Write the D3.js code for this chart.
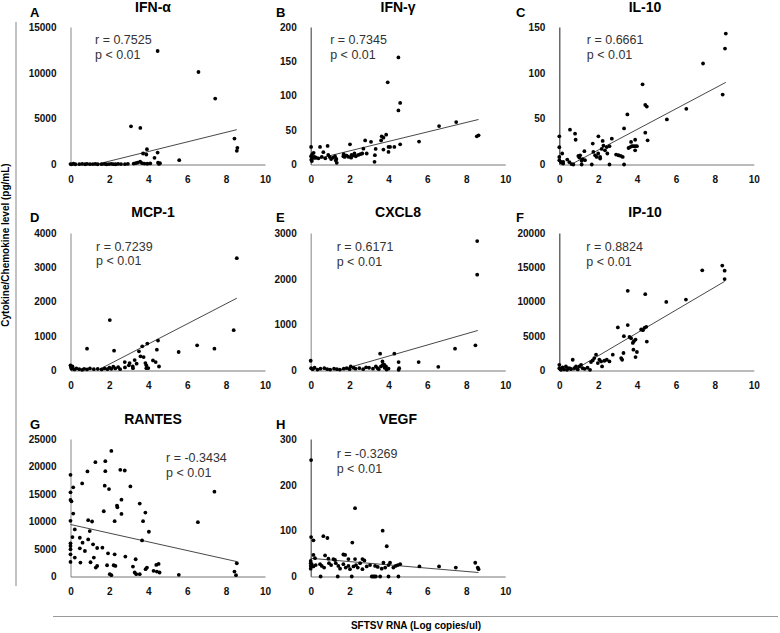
<!DOCTYPE html>
<html><head><meta charset="utf-8">
<script src="https://cdn.jsdelivr.net/npm/d3@7"></script>
<style>body{margin:0;background:#fff}svg{display:block}</style>
</head><body>
<script>
// ---------- DATA ----------
const panelNames = ["IFN-α","IFN-γ","IL-10","MCP-1","CXCL8","IP-10","RANTES","VEGF"];
const panelLetters = ["A","B","C","D","E","F","G","H"];
const yMaxes = [15000,200,150,4000,3000,20000,25000,300];
const yTickSteps = [5000,50,50,1000,1000,5000,5000,100];
const xTicks = [0,2,4,6,8,10];
const rValues = ["r = 0.7525","r = 0.7345","r = 0.6661","r = 0.7239","r = 0.6171","r = 0.8824","r = -0.3434","r = -0.3269"];
const pValues = ["p < 0.01","p < 0.01","p < 0.01","p < 0.01","p < 0.01","p < 0.01","p < 0.01","p < 0.01"];

const ifnAlpha = [[4.48,12380],[6.58,10090],[7.44,7190],[3.11,4170],[3.59,3990],[8.43,2830],[8.58,1815],[8.55,1490],[3.93,1670],[3.73,1200],[3.9,1090],[4.48,1300],[4.32,730],[5.59,470],
 [0,50],[0.05,20],[0.15,80],[0.25,30],[0.45,40],[0.6,60],[0.75,30],[0.85,70],[1.0,40],[1.15,50],[1.28,60],[1.4,30],[1.6,40],[1.75,60],[1.85,30],[1.98,50],[2.1,70],[2.2,40],[2.32,30],[2.45,60],[2.6,50],[2.8,40],[2.95,70],[3.25,100],[3.35,150],[3.45,200],[3.58,300],[3.68,150],[3.8,100],[3.95,80],[4.1,120],[4.5,200],[4.55,60],[4.6,150]];
const ifnGamma = [[4.51,155.7],[3.96,119.5],[4.6,89.6],[4.51,78.6],[7.48,61.7],[6.6,55.9],[8.54,41],[8.63,42.4],[5.57,33.3],[4.6,29.4],[3.88,43.4],[3.65,41],[3.74,39],[3.62,35],[3.1,33],[2.8,35],[2.02,29.4],[3.34,22.6],[3.28,3.9],[3.3,13.5],[3.74,21.7],[4.0,25.5],[4.08,25.5],[4.3,25.5],[4.0,18.3],[0.02,25.5],[0.48,25.5],[0.87,27],[0.02,12],[0.03,7],[0.06,5],[0.08,15],[0.12,10],[0.2,11],[0.28,10],[0.65,18],[0.57,11],[0.9,14],[0.98,11],[1.15,10],[1.25,12],[1.32,8],[1.29,6],[1.34,2.4],[1.68,12],[1.75,11],[1.85,13],[1.95,11],[2.08,10],[2.18,13],[2.32,12],[2.45,14],[2.55,15],[2.65,16],[2.71,23],[2.88,16],[0.75,9],[1.05,8],[1.7,15],[2.1,14],[2.25,16],[0.4,9],[0.15,17]];
const il10 = [[8.56,142.8],[8.52,126.5],[7.39,110.2],[8.4,76.3],[4.28,87.5],[4.42,65],[4.5,63.2],[6.53,60.7],[5.53,49.2],[3.5,54.6],[3.33,39.4],[4.42,34.7],[4.54,26.4],[3.56,18],[3.64,19],[3.73,20],[3.81,20],[3.9,20],[3.99,20],[3.69,24.6],[3.9,27],[3.9,15.5],[2.92,10.8],[3.04,10.1],[3.16,9.4],[3.26,8.3],[2.7,28.2],[2.58,20],[2.44,19],[2.47,12],[2.35,15.5],[2.23,25.7],[2.27,20.6],[2.18,17],[2.01,30.7],[1.72,22.8],[1.75,13.7],[1.84,10],[1.92,8.3],[2.0,12],[2.1,8.3],[2.1,6.5],[1.29,14.5],[1.07,10],[0.98,9.4],[1.03,7.6],[1.2,5.8],[1.15,4],[1.32,4.7],[0.55,38],[0.81,33.6],[0.84,27],[0,30.7],[0,18.8],[0,8.3],[0,4.7],[0.07,2.9],[0.15,12],[0.12,2.2],[0.2,2.9],[0.41,5.4],[0.52,2.5],[0.64,0.4],[0.72,0],[1.15,0],[1.67,0],[2.58,0],[3.33,0],[0.2,1]];
const mcp1 = [[8.55,3267],[8.39,1174],[2.02,1467],[0.85,636],[2.24,577],[4.5,870],[3.95,782],[3.69,704],[4.44,606],[3.52,557],[5.56,538],[6.51,733],[7.4,636],[3.6,411],[3.76,391],[3.3,303],[3.04,215],[2.79,245],[4.24,293],[4.38,245],[4.55,117],[3.85,215],[3.9,68],[3.21,68],
 [0,150],[0.02,100],[0.05,50],[0.1,120],[0.2,30],[0.3,60],[0.45,40],[0.6,20],[0.7,50],[0.85,30],[1.0,60],[1.2,40],[1.4,50],[1.6,30],[1.75,60],[1.9,40],[2.0,80],[2.1,50],[2.2,110],[2.3,60],[2.45,100],[2.55,40],[2.8,90],[3.0,150],[3.2,120],[3.4,200],[3.9,150],[4.0,70]];
const cxcl8 = [[8.56,2824],[8.56,2090],[8.47,550],[7.42,477],[6.56,80],[5.55,183],[3.57,367],[4.3,367],[4.52,183],[3.69,198],[3.78,125],[3.87,88],[3.61,88],[3.44,51],[2.06,88],[4.52,15],[4.55,50],
 [0,213],[0.02,50],[0.1,30],[0.2,60],[0.35,20],[0.5,40],[0.7,50],[0.85,30],[1.0,20],[1.2,40],[1.35,30],[1.5,20],[1.7,40],[1.85,50],[2.0,30],[2.2,60],[2.3,40],[2.5,50],[2.7,30],[2.85,70],[3.0,60],[3.2,40],[3.35,90],[3.5,30],[3.7,120],[3.8,60],[3.9,20],[4.0,40]];
const ip10 = [[8.38,15257],[8.5,14523],[7.35,14572],[8.5,13301],[3.52,11589],[4.42,11100],[5.5,9976],[6.51,10318],[3.52,6602],[3.01,6259],[4.38,6210],[4.47,6357],[4.21,5966],[4.3,5868],[4.5,4205],[3.32,4988],[3.61,4890],[3.69,4694],[3.83,4254],[3.92,4499],[3.78,4010],[3.81,3032],[3.99,2690],[3.92,1956],[3.3,2543],[3.18,1809],[3.23,1565],[2.75,2298],[2.58,1320],[2.44,1565],[2.32,1418],[2.15,1320],[2.06,1565],[1.89,2298],[1.8,1809],[1.72,1467],[1.63,1223],[1.98,1076],[2.2,587],[1.58,98],[1.2,342],[1.12,831],[1.03,587],[0.86,587],[0.69,1565],[0.77,342],[0.46,342],[0.34,587],[0.17,440],[0,831],[0,342],[0.09,98],[0.6,196],[0.05,200],[0.25,150],[0.4,100],[0.55,300],[0.95,150],[1.3,250],[1.45,400]];
const rantes = [[2.1,22831],[1.28,20783],[1.79,20964],[0.87,19096],[1.79,19156],[2.56,19397],[2.79,19277],[0,18494],[0.6,16928],[1.76,16506],[1.98,15904],[3.08,16386],[7.4,15422],[0,15301],[0.14,16205],[0,13916],[0.05,13675],[2.39,12892],[2.41,12590],[2.62,13976],[3.56,13253],[3.85,11627],[2.62,11386],[0.14,11446],[1.71,11867],[0,10120],[0.91,10241],[1.11,10000],[2.27,10060],[6.55,9880],[3.73,10060],[4.03,8132],[0.22,8554],[0.99,8253],[0.1,7169],[0.48,7048],[0.62,6145],[0.91,6747],[3.68,6566],[0,6024],[0,5542],[0,4940],[0,4036],[0,2651],[0.48,5120],[0.74,4639],[1.16,5843],[1.37,5181],[1.64,5241],[0.22,3434],[0.51,2530],[1.2,3434],[1.03,2590],[1.93,4217],[2.27,4036],[2.82,3614],[3.35,3133],[1.37,1928],[1.3,1627],[1.88,2048],[2.22,2048],[2.31,1928],[2.02,422],[2.1,241],[3.21,1807],[3.3,723],[3.38,422],[3.56,422],[3.86,1325],[3.93,1627],[4.41,2108],[4.53,2289],[4.27,1024],[4.44,904],[4.58,723],[5.57,301],[8.43,904],[8.51,241],[8.55,2410]];
const vegf = [[0.02,254],[2.28,149],[3.7,100],[3.91,66],[0.02,86],[0.14,79],[0.65,88],[0.86,84],[2.14,74],[0.74,46],[0.91,39],[0.14,47],[0.22,40],[1.68,48],[1.77,47],[1.94,38],[2.28,38],[2.66,38],[2.76,35],[1.17,38],[1.25,36],[4.08,30],[3.74,30],[4.6,27],[4.48,25],[5.59,22],[6.6,22],[7.46,19.5],[8.46,30],[8.59,19.5],[8.63,16],
 [0,34],[0,29],[0,23],[0,17],[0.05,27],[0.14,22],[0.26,25],[0.48,27],[0.57,23],[0.69,19.5],[0.94,29],[1.05,25],[1.29,29],[1.42,23],[1.51,17],[1.68,27],[1.8,19.5],[1.94,23],[2.02,16],[2.2,22],[2.33,25],[2.42,19.5],[2.54,29],[2.66,16],[2.88,22],[3.05,25],[3.31,23],[3.45,21],[3.65,17],[3.83,19.5],[4.0,25],[4.25,19.5],[4.37,23],
 [0.51,0],[1.39,0],[2.11,0],[3.14,0],[3.21,0],[3.28,0],[3.35,0],[3.57,0],[4.0,0],[4.51,0]];
const panelPoints = [ifnAlpha, ifnGamma, il10, mcp1, cxcl8, ip10, rantes, vegf];
// trend line end points [x0, y0, x1, y1]
const trendLines = [[1.3,0,8.55,3800],[0,6,8.63,65.5],[0.6,0,8.56,89.6],[1.37,0,8.55,2103],[1.43,0,8.59,873],[0.72,0,8.5,12959],[0,9458,8.55,2711],[0,39.7,8.63,8.7]];
const xAxisTitle = "SFTSV RNA (Log copies/ul)";
const yAxisTitle = "Cytokine/Chemokine level (pg/mL)";

// ---------- LAYOUT ----------
const W = 780, H = 633;
const colX = [70.5, 310.7, 559.3];
const plotW = 194.5;
const rowTop = [27, 233, 439];
const plotH = 137.5;
const titleX = [153, 398, 645];
const titleBase = [12, 217, 424];
const letterX = [30, 276, 516];
const statOffsets = [[24.5,13],[19.5,13],[27.5,13],[25.5,13.5],[26,14],[27,14],[95.5,19],[26,15]];
const yAxisColors = ["#9a9a9a","#555","#444","#9a9a9a","#9a9a9a","#444","#9a9a9a","#555"];

const svg = d3.select("body").append("svg").attr("width", W).attr("height", H);
const font = "Arial, 'Liberation Sans', sans-serif";

panelNames.forEach((name, i) => {
  const col = i % 3, row = Math.floor(i / 3);
  const x = d3.scaleLinear().domain([0, 10]).range([colX[col], colX[col] + plotW]);
  const y = d3.scaleLinear().domain([0, yMaxes[i]]).range([rowTop[row] + plotH, rowTop[row]]);
  const g = svg.append("g");

  const yTicks = d3.range(0, yMaxes[i] + 1, yTickSteps[i]);
  const ya = g.append("g").attr("transform", `translate(${colX[col]},0)`)
    .call(d3.axisLeft(y).tickValues(yTicks).tickSize(0).tickPadding(14).tickFormat(d3.format("d")));
  ya.select(".domain").attr("stroke", yAxisColors[i]).attr("stroke-width", 1.2);
  ya.selectAll("text").attr("font-family", font).attr("font-size", 10).attr("font-weight", "bold").attr("fill", "#111");

  const xa = g.append("g").attr("transform", `translate(0,${rowTop[row] + plotH})`)
    .call(d3.axisBottom(x).tickValues(xTicks).tickSize(0).tickPadding(11).tickFormat(d3.format("d")));
  xa.select(".domain").attr("stroke", "#777").attr("stroke-width", 1.2);
  xa.selectAll("text").attr("font-family", font).attr("font-size", 10).attr("font-weight", "bold").attr("fill", "#111");

  const t = trendLines[i];
  g.append("line").attr("x1", x(t[0])).attr("y1", y(t[1])).attr("x2", x(t[2])).attr("y2", y(t[3]))
    .attr("stroke", "#333").attr("stroke-width", 0.9);

  g.selectAll("circle.pt").data(panelPoints[i]).enter().append("circle")
    .attr("cx", d => x(d[0])).attr("cy", d => y(d[1])).attr("r", 1.9).attr("fill", "#000");

  g.append("text").attr("x", titleX[col]).attr("y", titleBase[row]).attr("text-anchor", "middle")
    .attr("font-family", font).attr("font-size", 14).attr("font-weight", "bold").text(name);
  g.append("text").attr("x", letterX[col]).attr("y", titleBase[row] + 5)
    .attr("font-family", font).attr("font-size", 13).attr("font-weight", "bold").text(panelLetters[i]);

  const so = statOffsets[i];
  g.append("text").attr("x", colX[col] + so[0]).attr("y", rowTop[row] + so[1]).attr("dy", "0.35em")
    .attr("font-family", font).attr("font-size", 12.5).attr("fill", "#333").text(rValues[i]);
  g.append("text").attr("x", colX[col] + so[0]).attr("y", rowTop[row] + so[1] + 14.5).attr("dy", "0.35em")
    .attr("font-family", font).attr("font-size", 12.5).attr("fill", "#333").text(pValues[i]);
});

// outer axis titles
svg.append("line").attr("x1", 53).attr("x2", 778).attr("y1", 616.5).attr("y2", 616.5).attr("stroke", "#999").attr("stroke-width", 1.2);
svg.append("text").attr("x", 416).attr("y", 629).attr("text-anchor", "middle")
  .attr("font-family", font).attr("font-size", 10).attr("font-weight", "bold").text(xAxisTitle);
svg.append("line").attr("x1", 16).attr("x2", 16).attr("y1", 22).attr("y2", 586).attr("stroke", "#999").attr("stroke-width", 1.2);
svg.append("text").attr("transform", "translate(9,245) rotate(-90)").attr("text-anchor", "middle")
  .attr("font-family", font).attr("font-size", 10).attr("font-weight", "bold").text(yAxisTitle);
</script>
</body></html>
